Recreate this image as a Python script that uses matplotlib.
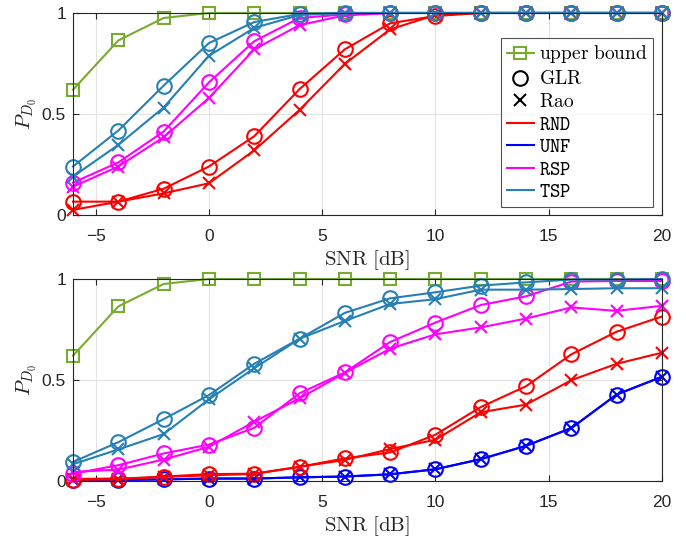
import matplotlib
matplotlib.use("Agg")
import matplotlib.pyplot as plt
from matplotlib.lines import Line2D

plt.rcParams['mathtext.fontset'] = 'cm'
plt.rcParams['font.family'] = ['Liberation Sans', 'DejaVu Sans']

snr = [-6, -4, -2, 0, 2, 4, 6, 8, 10, 12, 14, 16, 18, 20]

upper_bound = [0.62, 0.864, 0.975, 1, 1, 1, 1, 1, 1, 1, 1, 1, 1, 1]

# top panel
top_rnd_glr = [0.066, 0.066, 0.13, 0.24, 0.39, 0.623, 0.82, 0.949, 0.985, 1, 1, 1, 1, 1]
top_rnd_rao = [0.025, 0.066, 0.107, 0.157, 0.32, 0.52, 0.748, 0.919, 0.99, 1, 1, 1, 1, 1]
top_rsp_glr = [0.16, 0.26, 0.413, 0.656, 0.86, 0.975, 0.993, 1, 1, 1, 1, 1, 1, 1]
top_rsp_rao = [0.14, 0.24, 0.385, 0.579, 0.82, 0.94, 0.988, 1, 1, 1, 1, 1, 1, 1]
top_tsp_glr = [0.24, 0.418, 0.64, 0.851, 0.955, 0.995, 1, 1, 1, 1, 1, 1, 1, 1]
top_tsp_rao = [0.19, 0.347, 0.532, 0.788, 0.926, 0.99, 1, 1, 1, 1, 1, 1, 1, 1]

# bottom panel
bot_unf_glr = [0.005, 0.005, 0.008, 0.012, 0.012, 0.018, 0.022, 0.033, 0.058, 0.108, 0.174, 0.262, 0.428, 0.516]
bot_unf_rao = [0.005, 0.005, 0.008, 0.012, 0.012, 0.018, 0.022, 0.033, 0.058, 0.108, 0.174, 0.262, 0.428, 0.516]
bot_rnd_glr = [0.005, 0.008, 0.022, 0.034, 0.036, 0.07, 0.112, 0.141, 0.229, 0.366, 0.469, 0.627, 0.739, 0.814]
bot_rnd_rao = [0.01, 0.012, 0.02, 0.028, 0.035, 0.07, 0.104, 0.158, 0.204, 0.34, 0.378, 0.499, 0.58, 0.635]
bot_rsp_glr = [0.036, 0.078, 0.136, 0.18, 0.263, 0.434, 0.537, 0.688, 0.784, 0.871, 0.914, 0.987, 0.99, 0.99]
bot_rsp_rao = [0.045, 0.056, 0.106, 0.169, 0.293, 0.409, 0.535, 0.655, 0.726, 0.76, 0.804, 0.859, 0.842, 0.867]
bot_tsp_glr = [0.094, 0.192, 0.306, 0.425, 0.58, 0.704, 0.832, 0.904, 0.934, 0.967, 0.983, 0.997, 0.997, 1.0]
bot_tsp_rao = [0.083, 0.156, 0.232, 0.404, 0.558, 0.704, 0.792, 0.876, 0.9, 0.947, 0.947, 0.95, 0.954, 0.954]

xticks = [-5, 0, 5, 10, 15, 20]
yticks = [0, 0.5, 1]
ytick_labels = ['0', '0.5', '1']

C_UB = '#77AC30'
C_RND = '#FF0000'
C_UNF = '#0000FF'
C_RSP = '#FF00FF'
C_TSP = '#2580B5'
AXC = '#262626'

fig = plt.figure(figsize=(6.86, 5.38), dpi=100)
ax1 = fig.add_axes([0.1064, 0.6004, 0.8586, 0.3755])
ax2 = fig.add_axes([0.1064, 0.1060, 0.8586, 0.3755])

LW = 1.5
MS_O = 10.5
MS_X = 9
MS_S = 8.5

def series(ax, y_glr, y_rao, c):
    ax.plot(snr, y_glr, color=c, lw=LW, marker='o', ms=MS_O, mfc='none', mew=1.5, clip_on=False)
    ax.plot(snr, y_rao, color=c, lw=LW, marker='x', ms=MS_X, mew=1.5, clip_on=False)

def style(ax):
    ax.set_xlim(-6, 20)
    ax.set_ylim(0, 1)
    ax.set_xticks(xticks)
    ax.set_yticks(yticks)
    ax.set_yticklabels(ytick_labels)
    ax.grid(True, color='#E3E3E3', lw=0.8)
    ax.set_axisbelow(True)
    ax.tick_params(direction='in', length=4, width=0.8, colors=AXC, labelsize=12.5,
                   top=True, right=True)
    ax.tick_params(axis='x', pad=10)
    ax.tick_params(axis='y', pad=5)
    for s in ax.spines.values():
        s.set_color(AXC)
        s.set_linewidth(0.8)
    ax.set_xlabel(r'$\mathrm{SNR\ [dB]}$', fontsize=15, labelpad=3, color=AXC)
    ax.set_ylabel(r'$P_{D_0}$', fontsize=15, labelpad=2, color=AXC)

# top
ax1.plot(snr, upper_bound, color=C_UB, lw=LW, marker='s', ms=MS_S, mfc='none', mew=1.5, clip_on=False)
series(ax1, top_rnd_glr, top_rnd_rao, C_RND)
series(ax1, top_rsp_glr, top_rsp_rao, C_RSP)
series(ax1, top_tsp_glr, top_tsp_rao, C_TSP)
style(ax1)

# bottom
ax2.plot(snr, upper_bound, color=C_UB, lw=LW, marker='s', ms=MS_S, mfc='none', mew=1.5, clip_on=False)
series(ax2, bot_unf_glr, bot_unf_rao, C_UNF)
series(ax2, bot_rnd_glr, bot_rnd_rao, C_RND)
series(ax2, bot_rsp_glr, bot_rsp_rao, C_RSP)
series(ax2, bot_tsp_glr, bot_tsp_rao, C_TSP)
style(ax2)

handles = [
    Line2D([], [], color=C_UB, lw=LW, marker='s', ms=MS_S, mfc='none', mew=1.5),
    Line2D([], [], color='k', lw=0, marker='o', ms=MS_O, mfc='none', mew=1.5),
    Line2D([], [], color='k', lw=0, marker='x', ms=MS_X, mew=1.5),
    Line2D([], [], color=C_RND, lw=LW),
    Line2D([], [], color=C_UNF, lw=LW),
    Line2D([], [], color=C_RSP, lw=LW),
    Line2D([], [], color=C_TSP, lw=LW),
]
labels = [r'$\mathrm{upper\ bound}$', r'$\mathrm{GLR}$', r'$\mathrm{Rao}$',
          r'$\mathtt{RND}$', r'$\mathtt{UNF}$', r'$\mathtt{RSP}$', r'$\mathtt{TSP}$']
leg = ax1.legend(handles, labels, loc='lower right', bbox_to_anchor=(0.985, 0.04),
                 fontsize=14, frameon=True, fancybox=False, edgecolor=AXC,
                 handlelength=1.4, handletextpad=0.25, labelspacing=0.25,
                 borderpad=0.3, borderaxespad=0)
leg.get_frame().set_linewidth(0.8)

fig.savefig('out.png', dpi=100, facecolor='white')
